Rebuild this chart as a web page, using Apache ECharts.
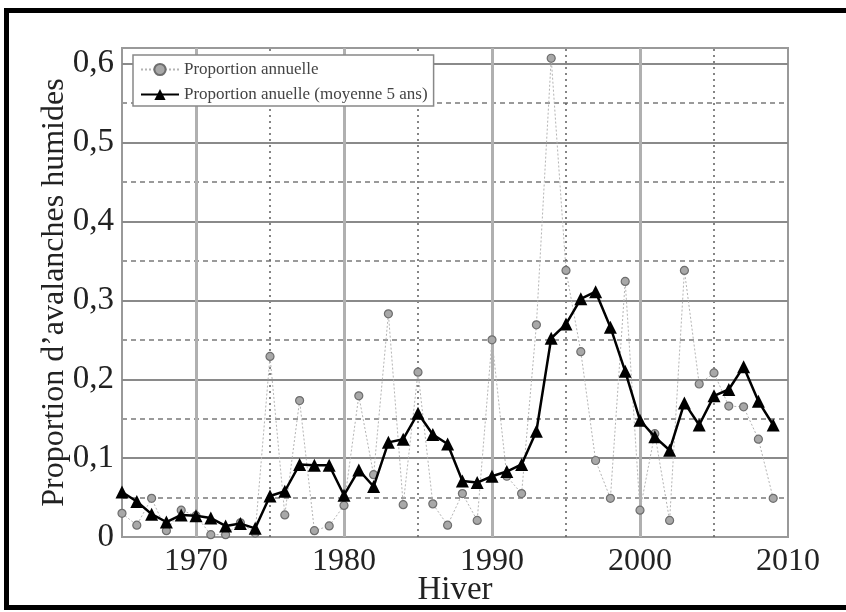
<!DOCTYPE html>
<html>
<head>
<meta charset="utf-8">
<script src="https://cdn.jsdelivr.net/npm/echarts@6/dist/echarts.min.js"></script>
<style>
  html, body { margin: 0; padding: 0; background: #fff; }
  #chart { width: 846px; height: 612px; }
</style>
</head>
<body>
<div id="chart"></div>
<script>
// Winters (hiver) on the x axis
const winters = [1965, 1966, 1967, 1968, 1969, 1970, 1971, 1972, 1973, 1974,
                 1975, 1976, 1977, 1978, 1979, 1980, 1981, 1982, 1983, 1984,
                 1985, 1986, 1987, 1988, 1989, 1990, 1991, 1992, 1993, 1994,
                 1995, 1996, 1997, 1998, 1999, 2000, 2001, 2002, 2003, 2004,
                 2005, 2006, 2007, 2008, 2009];

// Yearly share of wet-snow avalanches
const annualShare = [0.030, 0.015, 0.049, 0.008, 0.034, 0.027, 0.003, 0.003, 0.018, 0.005,
                     0.229, 0.028, 0.173, 0.008, 0.014, 0.040, 0.179, 0.079, 0.283, 0.041,
                     0.209, 0.042, 0.015, 0.055, 0.021, 0.250, 0.077, 0.055, 0.269, 0.607,
                     0.338, 0.235, 0.097, 0.049, 0.324, 0.034, 0.131, 0.021, 0.338, 0.194,
                     0.208, 0.166, 0.165, 0.124, 0.049];

// 5-winter running mean
const meanShare = [0.057, 0.045, 0.029, 0.019, 0.028, 0.027, 0.024, 0.014, 0.017, 0.011,
                   0.052, 0.058, 0.092, 0.091, 0.091, 0.053, 0.085, 0.064, 0.120, 0.124,
                   0.157, 0.130, 0.118, 0.071, 0.069, 0.077, 0.083, 0.092, 0.134, 0.252,
                   0.270, 0.302, 0.311, 0.266, 0.210, 0.148, 0.127, 0.110, 0.170, 0.142,
                   0.179, 0.187, 0.216, 0.172, 0.142];

// Grid positions
const majorYears = [1970, 1980, 1990, 2000];
const minorYears = [1975, 1985, 1995, 2005];
const majorShares = [0.1, 0.2, 0.3, 0.4, 0.5, 0.6];
const minorShares = [0.05, 0.15, 0.25, 0.35, 0.45, 0.55];
const shareTicks = [0, 0.1, 0.2, 0.3, 0.4, 0.5, 0.6];

const SERIF = '"Liberation Serif", "DejaVu Serif", serif';

const pair = (xs, ys) => xs.map((x, i) => [x, ys[i]]);

const gridLines = [].concat(
  minorShares.map(v => ({ yAxis: v, lineStyle: { color: '#9a9a9a', width: 2, type: [5, 4] } })),
  minorYears.map(v => ({ xAxis: v, lineStyle: { color: '#5e5e5e', width: 1.5, type: [2, 4] } })),
  majorShares.map(v => ({ yAxis: v, lineStyle: { color: '#8a8a8a', width: 2, type: 'solid' } })),
  majorYears.map(v => ({ xAxis: v, lineStyle: { color: '#b0b0b0', width: 3, type: 'solid' } }))
);

const chart = echarts.init(document.getElementById('chart'), null, { renderer: 'canvas' });

chart.setOption({
  animation: false,
  backgroundColor: '#fff',
  textStyle: { fontFamily: SERIF },
  grid: {
    left: 122, right: 58, top: 48, bottom: 75,
    outerBoundsMode: 'none', containLabel: false,
    show: true, borderColor: '#999', borderWidth: 2, backgroundColor: 'transparent'
  },
  legend: {
    left: 133, top: 55,
    orient: 'vertical',
    backgroundColor: '#fff',
    borderColor: '#888', borderWidth: 1.5, borderRadius: 0,
    padding: [6, 6, 3, 7],
    itemWidth: 38, itemHeight: 14, itemGap: 8,
    textStyle: { fontFamily: SERIF, fontSize: 17, color: '#444' },
    data: ['Proportion annuelle', 'Proportion anuelle (moyenne 5 ans)']
  },
  xAxis: {
    type: 'value', min: 1965, max: 2010, interval: 5,
    name: 'Hiver', nameLocation: 'middle', nameGap: 37, nameMoveOverlap: false,
    nameTextStyle: { fontFamily: SERIF, fontSize: 33, color: '#222' },
    axisLine: { show: false },
    axisTick: { show: false },
    splitLine: { show: false },
    axisLabel: {
      fontFamily: SERIF, fontSize: 32, color: '#222', margin: 9,
      formatter: v => (majorYears.includes(v) || v === 2010) ? String(v) : ''
    }
  },
  yAxis: {
    type: 'value', min: 0, max: 0.62, interval: 0.1,
    name: 'Proportion d’avalanches humides', nameLocation: 'middle', nameGap: 51, nameMoveOverlap: false,
    nameTextStyle: { fontFamily: SERIF, fontSize: 32, color: '#222' },
    axisLine: { show: false },
    axisTick: { show: false },
    splitLine: { show: false },
    axisLabel: {
      fontFamily: SERIF, fontSize: 33, color: '#222', margin: 8,
      formatter: v => {
        const t = shareTicks.find(s => Math.abs(s - v) < 1e-6);
        if (t === undefined) return '';
        return t === 0 ? '0' : t.toFixed(1).replace('.', ',');
      }
    }
  },
  series: [
    {
      name: 'Proportion annuelle',
      type: 'line',
      z: 2,
      data: pair(winters, annualShare),
      symbol: 'circle', symbolSize: 8,
      itemStyle: { color: '#a8a8a8', borderColor: '#6e6e6e', borderWidth: 1.2 },
      lineStyle: { color: '#b4b4b4', width: 1, type: [2, 2] },
      markLine: {
        z: 1, silent: true, symbol: ['none', 'none'],
        label: { show: false }, emphasis: { disabled: true },
        data: gridLines
      }
    },
    {
      name: 'Proportion anuelle (moyenne 5 ans)',
      type: 'line',
      z: 3,
      data: pair(winters, meanShare),
      symbol: 'triangle', symbolSize: 13,
      itemStyle: { color: '#000' },
      lineStyle: { color: '#000', width: 2.5 }
    }
  ],
  graphic: [
    {
      type: 'rect', z: 100, silent: true,
      shape: { x: 6.5, y: 10.5, width: 900, height: 597 },
      style: { fill: 'none', stroke: '#000', lineWidth: 5 }
    }
  ]
});
</script>
</body>
</html>
